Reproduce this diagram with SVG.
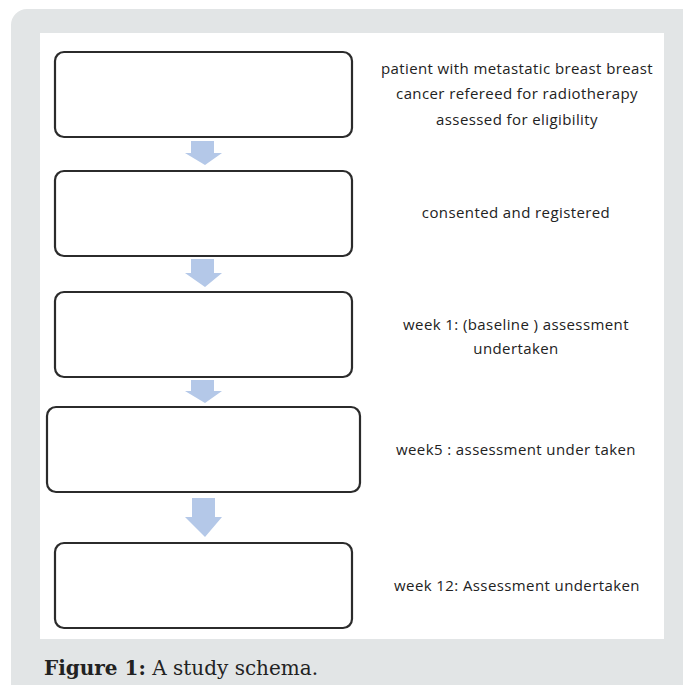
<svg xmlns="http://www.w3.org/2000/svg" width="683" height="685" viewBox="0 0 683 685">
<style>
.box{fill:#fff;stroke:#2b2b2b;stroke-width:2.2}
.arr{fill:#b4c8e8}
.t{font-family:"Open Sans",sans-serif;font-size:15px;letter-spacing:0.4px;fill:#222;text-anchor:middle}
.cap{font-family:"DejaVu Serif",serif;font-size:20px;fill:#222}
</style>
<rect x="11" y="9" width="700" height="700" rx="16" fill="#e2e5e6"/>
<rect x="40" y="33" width="624" height="606" fill="#fff"/>
<g id="connectors">
<path class="arr" d="M191,141H214V153H222L205,165L185,153H191Z"/>
<path class="arr" d="M191,259H214V273H222L205,287L185,273H191Z"/>
<path class="arr" d="M191,380H214V391H222L205,403L185,391H191Z"/>
<path class="arr" d="M192,498H215V517H222L205,537L185,517H192Z"/>
</g>
<g id="node1">
<rect class="box" x="55" y="52" width="297" height="85" rx="9"/>
<text class="t" x="517" y="74">patient with metastatic breast breast</text>
<text class="t" x="517" y="99">cancer refereed for radiotherapy</text>
<text class="t" x="517" y="125">assessed for eligibility</text>
</g>
<g id="node2">
<rect class="box" x="55" y="171" width="297" height="85" rx="9"/>
<text class="t" x="516" y="218">consented and registered</text>
</g>
<g id="node3">
<rect class="box" x="55" y="292" width="297" height="85" rx="9"/>
<text class="t" x="516" y="330">week 1: (baseline ) assessment</text>
<text class="t" x="516" y="354">undertaken</text>
</g>
<g id="node4">
<rect class="box" x="47" y="407" width="313" height="85" rx="9"/>
<text class="t" x="516" y="455">week5 : assessment under taken</text>
</g>
<g id="node5">
<rect class="box" x="55" y="543" width="297" height="85" rx="9"/>
<text class="t" x="517" y="591">week 12: Assessment undertaken</text>
</g>
<text class="cap" x="44" y="675"><tspan font-weight="bold">Figure 1:</tspan> A study schema.</text>
</svg>
